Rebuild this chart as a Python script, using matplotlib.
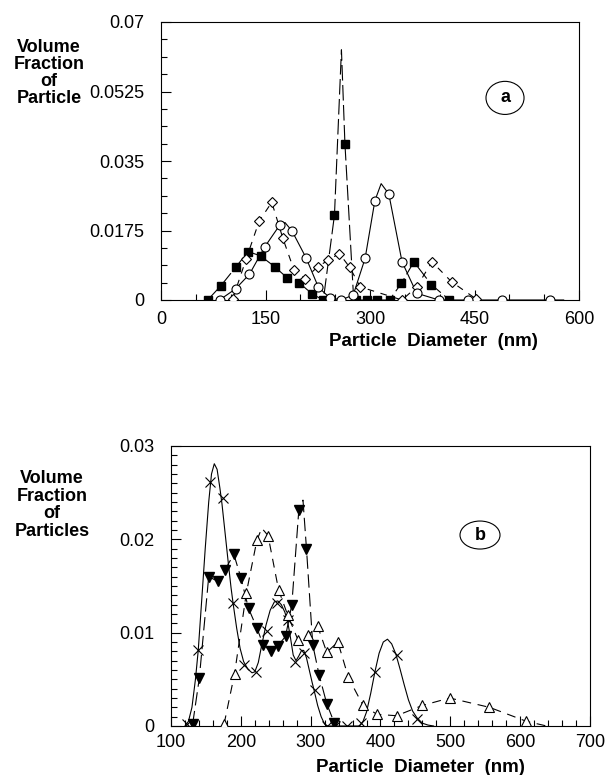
import matplotlib
matplotlib.use("Agg")
import matplotlib.pyplot as plt
from matplotlib.patches import Ellipse
from matplotlib.ticker import MultipleLocator

plt.rcParams['font.family'] = ['Liberation Sans', 'DejaVu Sans']

# ---------------- Panel (a) data ----------------
sq_x = [67, 86, 107, 125, 143, 163, 181, 198, 217, 233, 249, 264, 280, 295, 310, 328, 345, 363, 388, 414]
sq_y = [0, 0.0036, 0.0082, 0.0122, 0.0111, 0.0084, 0.0056, 0.0044, 0.0015, 0, 0.0214, 0.0394, 0, 0, 0, 0, 0.0042, 0.0096, 0.0039, 0]
sq_line_x = [67, 86, 107, 125, 143, 163, 181, 198, 217, 233, 249, 259, 264, 276, 280, 295, 310, 328, 345, 363, 388, 414]
sq_line_y = [0, 0.0036, 0.0082, 0.0122, 0.0111, 0.0084, 0.0056, 0.0044, 0.0015, 0, 0.0214, 0.063, 0.0394, 0.002, 0, 0, 0, 0, 0.0042, 0.0096, 0.0039, 0]

ci_x = [84, 107, 127, 149, 171, 188, 208, 226, 242, 259, 276, 293, 307, 327, 346, 367, 399, 440, 490, 559]
ci_y = [0, 0.0028, 0.0065, 0.0134, 0.019, 0.0174, 0.0107, 0.0032, 0.0006, 0, 0.0013, 0.0105, 0.025, 0.0267, 0.0096, 0.0017, 0, 0, 0, 0]
ci_line_x = [84, 107, 127, 149, 171, 178, 188, 208, 226, 242, 259, 276, 293, 307, 316, 327, 346, 367, 399, 440, 490, 559, 578]
ci_line_y = [0, 0.0028, 0.0065, 0.0134, 0.019, 0.0195, 0.0174, 0.0107, 0.0032, 0.0006, 0, 0.0013, 0.0105, 0.025, 0.0293, 0.0267, 0.0096, 0.0017, 0, 0, 0, 0, 0]

di_x = [103, 122, 141, 159, 175, 191, 207, 225, 240, 256, 271, 286, 346, 367, 389, 417, 452]
di_y = [0.0003, 0.0102, 0.0199, 0.0246, 0.0155, 0.0075, 0.0054, 0.0084, 0.0100, 0.0117, 0.0082, 0.0033, 0, 0.0033, 0.0096, 0.0046, 0.0003]

# ---------------- Panel (b) data ----------------
cr_x = [123, 138, 156, 174, 189, 205, 222, 238, 252, 267, 278, 291, 306, 323, 335, 352, 372, 392, 423, 452]
cr_y = [0.0002, 0.0081, 0.0261, 0.0244, 0.0132, 0.0065, 0.0058, 0.0102, 0.0132, 0.0114, 0.0069, 0.0078, 0.0039, 0, 0, 0, 0.0003, 0.0058, 0.0076, 0.0008]
fit_x = [120, 125, 130, 135, 139, 144, 149, 154, 158, 162, 166, 170, 173, 177, 182, 186, 189, 194, 199, 204,
         210, 216, 220, 225, 230, 236, 242, 248, 253, 258, 263, 267, 271, 275, 279, 283, 287, 290, 294, 298,
         302, 305, 310, 315, 320, 324, 370, 375, 380, 386, 392, 398, 404, 410, 416, 422, 428, 434, 440, 446,
         452, 460, 468, 476]
fit_y = [0, 0.0005, 0.002, 0.005, 0.0081, 0.0135, 0.019, 0.024, 0.027, 0.0281, 0.0275, 0.0255, 0.0238, 0.021,
         0.0175, 0.0148, 0.0131, 0.0105, 0.0083, 0.0069, 0.0061, 0.0057, 0.0058, 0.0068, 0.0087, 0.0108,
         0.0124, 0.0133, 0.0134, 0.013, 0.0122, 0.0112, 0.0095, 0.0076, 0.007, 0.0075, 0.0081, 0.0081,
         0.0073, 0.006, 0.0047, 0.0038, 0.0022, 0.001, 0.0002, 0, 0, 0.0005, 0.0015, 0.0035, 0.0058, 0.0078,
         0.009, 0.0093, 0.0088, 0.0077, 0.0061, 0.0044, 0.0028, 0.0016, 0.0009, 0.0003, 0.0001, 0]

dt_x = [131, 140.5, 154, 167, 177, 190, 200, 211, 223, 232, 243, 253, 264, 273, 283, 294, 303, 312, 323, 334]
dt_y = [0.0002, 0.0051, 0.016, 0.0155, 0.0167, 0.0184, 0.0159, 0.0126, 0.0105, 0.0087, 0.008, 0.0086, 0.0096, 0.013, 0.0231, 0.019, 0.0087, 0.0055, 0.0024, 0.0003]
dt_line_x = [131, 140.5, 154, 167, 177, 190, 200, 211, 223, 232, 243, 253, 264, 273, 283, 289, 294, 303, 312, 323, 334]
dt_line_y = [0.0002, 0.0051, 0.016, 0.0155, 0.0167, 0.0184, 0.0159, 0.0126, 0.0105, 0.0087, 0.008, 0.0086, 0.0096, 0.013, 0.0231, 0.0242, 0.019, 0.0087, 0.0055, 0.0024, 0.0003]

ut_x = [176, 191, 208, 223, 239, 254, 267, 282, 296, 310, 323, 339, 354, 375, 395, 423, 460, 499, 556, 609]
ut_y = [0.0002, 0.0056, 0.0143, 0.0199, 0.0204, 0.0146, 0.0119, 0.0092, 0.0097, 0.0107, 0.0079, 0.009, 0.0052, 0.0022, 0.00125, 0.0011, 0.0022, 0.003, 0.002, 0.0005]
ut_line_x = [176, 191, 208, 223, 230, 239, 254, 267, 282, 296, 310, 323, 339, 354, 375, 395, 423, 460, 499, 556, 609, 638]
ut_line_y = [0.0002, 0.0056, 0.0143, 0.0199, 0.0212, 0.0204, 0.0146, 0.0119, 0.0092, 0.0097, 0.0107, 0.0079, 0.009, 0.0052, 0.0022, 0.00125, 0.0011, 0.0022, 0.003, 0.002, 0.0005, 0]

a_xticks = [0, 150, 300, 450, 600]
a_yticks = [0, 0.0175, 0.035, 0.0525, 0.07]
a_yticklabels = ['0', '0.0175', '0.035', '0.0525', '0.07']
b_xticks = [100, 200, 300, 400, 500, 600, 700]
b_yticks = [0, 0.01, 0.02, 0.03]
b_yticklabels = ['0', '0.01', '0.02', '0.03']

fig = plt.figure(figsize=(6.06, 7.75), dpi=100)
ax1 = fig.add_axes([161/606, 1-300/775, 418/606, 278/775])
ax2 = fig.add_axes([171/606, 1-726/775, 419/606, 280/775])

lw = 0.8
# panel a
ax1.plot(sq_line_x, sq_line_y, color='black', lw=lw, dashes=(14, 4), zorder=2)
ax1.plot(sq_x, sq_y, ls='none', marker='s', ms=6.2, mfc='black', mec='black', zorder=3)
ax1.plot(ci_line_x, ci_line_y, color='black', lw=lw, zorder=2)
ax1.plot(ci_x, ci_y, ls='none', marker='o', ms=6.5, mfc='white', mec='black', mew=0.8, zorder=4)
ax1.plot(di_x, di_y, color='black', lw=lw, dashes=(6, 6), marker='D', ms=4.6, mfc='white', mec='black', mew=0.8, zorder=3)

ax1.set_xlim(0, 600)
ax1.set_ylim(0, 0.07)
ax1.set_xticks(a_xticks)
ax1.set_yticks(a_yticks)
ax1.set_yticklabels(a_yticklabels)
ax1.xaxis.set_minor_locator(MultipleLocator(50))
ax1.yaxis.set_minor_locator(MultipleLocator(0.004375))

# panel b
ax2.plot(fit_x, fit_y, color='black', lw=lw, zorder=2)
ax2.plot(cr_x, cr_y, ls='none', marker='x', ms=7.5, mec='black', mew=0.8, zorder=3)
ax2.plot(dt_line_x, dt_line_y, color='black', lw=lw, dashes=(12, 5), zorder=2)
ax2.plot(dt_x, dt_y, ls='none', marker='v', ms=7.5, mfc='black', mec='black', zorder=3)
ax2.plot(ut_line_x, ut_line_y, color='black', lw=lw, dashes=(8, 6), zorder=2)
ax2.plot(ut_x, ut_y, ls='none', marker='^', ms=7.5, mfc='white', mec='black', mew=0.8, zorder=3)

ax2.set_xlim(100, 700)
ax2.set_ylim(0, 0.03)
ax2.set_xticks(b_xticks)
ax2.set_yticks(b_yticks)
ax2.set_yticklabels(b_yticklabels)
ax2.xaxis.set_minor_locator(MultipleLocator(20))
ax2.yaxis.set_minor_locator(MultipleLocator(0.001))

for ax in (ax1, ax2):
    for s in ax.spines.values():
        s.set_linewidth(0.8)
    ax.tick_params(which='both', direction='in', top=False, right=False, labelsize=13, width=0.8)
    ax.tick_params(which='major', length=7)
    ax.tick_params(which='minor', length=4)
    ax.tick_params(axis='y', pad=12)
ax1.tick_params(axis='x', pad=8)
ax2.tick_params(axis='x', pad=6)

# circled labels
ax1.add_patch(Ellipse((0.823, 0.727), 0.091, 0.119, transform=ax1.transAxes, fill=False, ec='black', lw=0.8))
ax1.text(0.823, 0.727, 'a', transform=ax1.transAxes, ha='center', va='center', fontsize=13, fontweight='bold')
ax2.add_patch(Ellipse((0.7375, 0.682), 0.0955, 0.10, transform=ax2.transAxes, fill=False, ec='black', lw=0.8))
ax2.text(0.7375, 0.682, 'b', transform=ax2.transAxes, ha='center', va='center', fontsize=13, fontweight='bold')

# axis titles
fig.text(433/606, 1-342/775, 'Particle  Diameter  (nm)', ha='center', va='center', fontsize=13.5, fontweight='bold')
fig.text(420/606, 1-767/775, 'Particle  Diameter  (nm)', ha='center', va='center', fontsize=13.5, fontweight='bold')
fig.text(49/606, 1-73/775, 'Volume\nFraction\nof\nParticle', ha='center', va='center', fontsize=13,
         fontweight='bold', linespacing=1.0)
fig.text(52/606, 1-505/775, 'Volume\nFraction\nof\nParticles', ha='center', va='center', fontsize=13,
         fontweight='bold', linespacing=1.05)

fig.savefig('out.png', dpi=100)
